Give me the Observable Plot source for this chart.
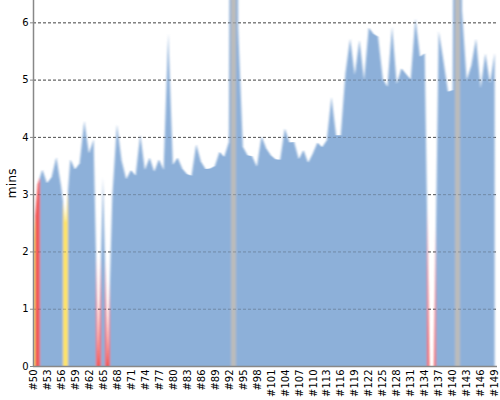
<!DOCTYPE html>
<html><head><meta charset="utf-8">
<script src="https://cdn.jsdelivr.net/npm/d3@7"></script>
<script src="https://cdn.jsdelivr.net/npm/@observablehq/plot@0.6"></script>
<style>body{margin:0;background:#fff;} svg{display:block}</style>
</head><body><div id="chart"></div>
<script>
const episodes = d3.range(50, 150);
const minutes = [
  2.2, 3.17, 3.43, 3.19, 3.30, 3.65, 3.15, 2.5, 3.61, 3.43,
  3.54, 4.28, 3.71, 3.96, 0, 3.30, 0, 2.95, 4.22, 3.59,
  3.26, 3.42, 3.32, 4.04, 3.42, 3.64, 3.39, 3.61, 3.42, 5.81,
  3.51, 3.64, 3.45, 3.35, 3.32, 3.87, 3.57, 3.44, 3.45, 3.49,
  3.74, 3.65, 3.91, 27, 5.9, 3.83, 3.68, 3.66, 3.48, 4.01,
  3.80, 3.68, 3.61, 3.60, 4.15, 3.90, 3.91, 3.61, 3.77, 3.55,
  3.71, 3.90, 3.82, 3.94, 4.70, 4.03, 4.03, 5.11, 5.72, 5.08,
  5.69, 4.99, 5.91, 5.80, 5.75, 5.02, 4.87, 5.93, 4.92, 5.20,
  5.10, 5.00, 6.07, 5.40, 5.46, 0, 0, 5.85, 5.34, 4.79,
  4.82, 25, 6.2, 4.99, 5.25, 5.72, 4.85, 5.46, 4.93, 5.47
];
const highlightEpisodes = [50, 51, 57, 64, 66, 93, 135, 136, 141];
const highlightKinds = ["yellow", "red", "yellow", "red", "red", "gray", "red", "red", "gray"];
const kindColors = {yellow: "#fde36a", red: "#f05a5a", gray: "#bbbbbb"};
const baseColor = "#8db0d9";
const xTicks = d3.range(50, 150, 3);
const yTicks = [0, 1, 2, 3, 4, 5, 6];

const data = episodes.map((e, i) => ({episode: e, mins: minutes[i]}));

const plot = Plot.plot({
  width: 500, height: 400,
  marginLeft: 33, marginRight: 3, marginTop: 0, marginBottom: 34,
  style: {fontFamily: "DejaVu Sans", fontSize: "10px", background: "white", color: "black"},
  x: {domain: [50, 149.5], axis: null},
  y: {domain: [0, 6.39], axis: null},
  marks: [
    Plot.gridY(yTicks.slice(1), {stroke: "#666", strokeOpacity: 1, strokeDasharray: "3,2"}),
    Plot.areaY(data, {x: "episode", y: "mins", fill: "url(#areaGrad)", clip: true}),
    Plot.gridY(yTicks.slice(1), {stroke: "#333", strokeOpacity: 0.3, strokeDasharray: "3,2"}),
    Plot.ruleX([50], {stroke: "#888", strokeWidth: 1.5}),
    Plot.ruleY([0], {stroke: "#888", strokeWidth: 1.5}),
    Plot.axisY({ticks: yTicks, tickFormat: d3.format("d"), tickSize: 3, tickPadding: 2, stroke: "#888", fontSize: 10, label: null}),
    Plot.axisX({ticks: xTicks, tickFormat: d => "#" + d, tickRotate: -90, tickSize: 0, tickPadding: 3, label: null}),
    Plot.text(["mins"], {frameAnchor: "left", dx: -22, dy: 15, rotate: -90, fontSize: 12.5, fill: "black"})
  ]
});

const sx = plot.scale("x");
const svg = d3.select(plot);
const defs = svg.insert("defs", ":first-child");
const x0 = sx.apply(49.5), x1 = sx.apply(149.5);
const grad = defs.append("linearGradient")
  .attr("id", "areaGrad")
  .attr("gradientUnits", "userSpaceOnUse")
  .attr("x1", x0).attr("x2", x1).attr("y1", 0).attr("y2", 0);
const off = t => (t - 49.5) / 100;
grad.append("stop").attr("offset", 0).attr("stop-color", baseColor);
highlightEpisodes.forEach((e, i) => {
  const c = kindColors[highlightKinds[i]];
  grad.append("stop").attr("offset", off(e - 0.5)).attr("stop-color", baseColor);
  grad.append("stop").attr("offset", off(e - 0.5)).attr("stop-color", c);
  grad.append("stop").attr("offset", off(e + 0.5)).attr("stop-color", c);
  grad.append("stop").attr("offset", off(e + 0.5)).attr("stop-color", baseColor);
});
grad.append("stop").attr("offset", 1).attr("stop-color", baseColor);

defs.append("filter").attr("id", "soft")
  .attr("x", "-5%").attr("y", "-5%").attr("width", "110%").attr("height", "110%")
  .append("feGaussianBlur").attr("stdDeviation", "0.9 0.5");
svg.selectAll('[fill="url(#areaGrad)"]').attr("filter", "url(#soft)");

document.getElementById("chart").appendChild(plot);
</script>
</body></html>
